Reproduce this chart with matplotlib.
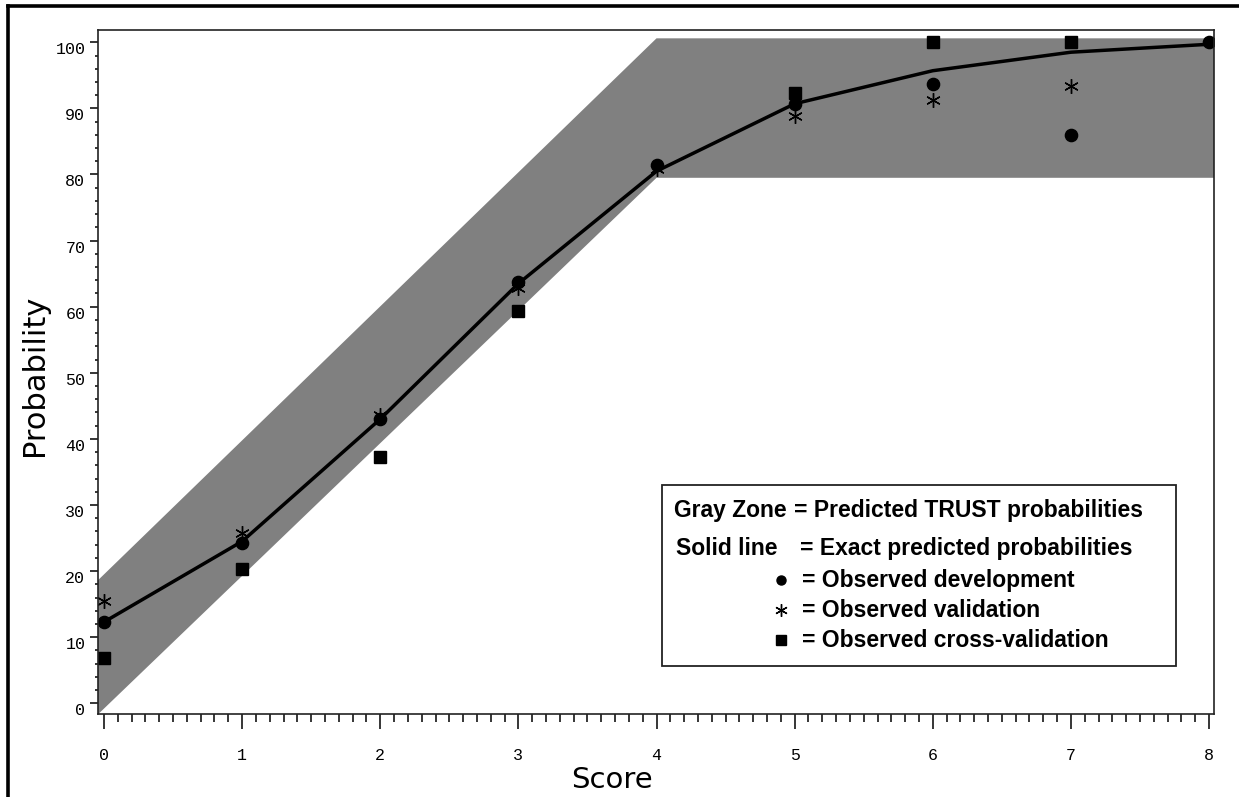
import numpy as np
import matplotlib
matplotlib.use("Agg")
import matplotlib.pyplot as plt
from matplotlib.lines import Line2D
from matplotlib.patches import Rectangle
from matplotlib.ticker import MultipleLocator
from matplotlib.transforms import ScaledTranslation

# ---------------- data ----------------
scores = [0, 1, 2, 3, 4, 5, 6, 7, 8]
exact_pred = [12.3, 24.5, 43.0, 63.5, 80.5, 90.7, 95.7, 98.5, 99.7]
obs_dev = [12.3, 24.3, 43.0, 63.8, 81.5, 90.6, 93.7, 85.9, 100.0]
obs_val = [15.4, 25.8, 43.6, 62.8, 80.8, 88.8, 91.3, 93.4, np.nan]
obs_cv = [6.8, 20.3, 37.2, 59.4, np.nan, 92.4, 100.0, 100.0, np.nan]

zone_x = [0, 4, 8]
zone_low = [-0.8, 79.5, 79.5]
zone_high = [19.5, 100.6, 100.6]

x_ticks = [0, 1, 2, 3, 4, 5, 6, 7, 8]
y_ticks = [0, 10, 20, 30, 40, 50, 60, 70, 80, 90, 100]

# ---------------- figure ----------------
W, H = 1239, 797
DPI = 100
fig = plt.figure(figsize=(W / DPI, H / DPI), dpi=DPI)
fig.patch.set_facecolor("white")


def fx(px):
    return px / W


def fy(py):
    return 1 - py / H


# outer frame (left and top edges visible)
fig.add_artist(Line2D([fx(8), fx(8)], [fy(6), fy(800)], color="black", lw=2.6))
fig.add_artist(Line2D([fx(8), fx(1245)], [fy(6), fy(6)], color="black", lw=2.6))

ax = fig.add_axes([fx(98), fy(714), (1214 - 98) / W, (714 - 30) / H])
xlim = (-0.0434, 8.036)
ylim = (-1.62, 101.86)
ax.set_xlim(*xlim)
ax.set_ylim(*ylim)

# gray zone (extend edges linearly to the axis limits)
zx = np.array(zone_x, dtype=float)
zl = np.array(zone_low, dtype=float)
zh = np.array(zone_high, dtype=float)
slope_l = (zl[1] - zl[0]) / (zx[1] - zx[0])
slope_h = (zh[1] - zh[0]) / (zx[1] - zx[0])
x_poly = [xlim[0], zx[0], zx[1], zx[2], xlim[1]]
low_poly = [zl[0] + slope_l * (xlim[0] - zx[0]), zl[0], zl[1], zl[2], zl[2]]
xh_corner = zx[0] + (zh[1] - zh[0]) / slope_h
high_poly_x = [xlim[0], zx[0], xh_corner, zx[2], xlim[1]]
high_poly = [zh[0] + slope_h * (xlim[0] - zx[0]), zh[0], zh[1], zh[2], zh[2]]
poly_x = list(high_poly_x) + list(reversed(x_poly))
poly_y = list(high_poly) + list(reversed(low_poly))
ax.fill(poly_x, poly_y, color="#808080", lw=0, zorder=1)

# exact predicted line
ax.plot(scores, exact_pred, color="black", lw=2.5, zorder=3)

# observed points
ax.plot(scores, obs_val, ls="none", marker=(6, 2, 0), ms=10.5, mew=1.0,
        color="black", zorder=4)
ax.plot(scores, obs_dev, ls="none", marker="o", ms=8.8, color="black", zorder=5)
ax.plot(scores, obs_cv, ls="none", marker="s", ms=8.6, color="black", zorder=6)

# ticks
ax.set_xticks(x_ticks)
ax.set_xticklabels([str(v) for v in x_ticks])
ax.xaxis.set_minor_locator(MultipleLocator(0.1))
ax.set_yticks(y_ticks)
ax.set_yticklabels([str(v) for v in y_ticks])
ax.yaxis.set_minor_locator(MultipleLocator(2))

ax.tick_params(axis="x", which="major", direction="out", length=10.6, width=1.1,
               pad=14, labelsize=12, color="black")
ax.tick_params(axis="x", which="minor", direction="out", length=6.0, width=1.1,
               color="black")
ax.tick_params(axis="y", which="major", direction="out", length=5.5, width=1.1,
               pad=3.6, labelsize=12, color="black")
ax.tick_params(axis="y", which="minor", direction="out", length=2.4, width=1.1,
               color="black")
for lbl in ax.get_xticklabels() + ax.get_yticklabels():
    lbl.set_family("Liberation Mono")
for lbl in ax.get_yticklabels():
    lbl.set_transform(lbl.get_transform()
                      + ScaledTranslation(0, -6 / DPI, fig.dpi_scale_trans))

for sp in ax.spines.values():
    sp.set_linewidth(1.2)
    sp.set_color("#222222")
    sp.set_zorder(7)

# axis titles
fig.text(fx(35), fy(375), "Probability", rotation=90, ha="center", va="center",
         fontsize=22, family="DejaVu Sans")
fig.text(fx(612), fy(780), "Score", ha="center", va="center",
         fontsize=21, family="DejaVu Sans")

# legend box
fig.add_artist(Rectangle((fx(662), fy(666)), (1176 - 662) / W, (666 - 485) / H,
                         fill=True, facecolor="white", edgecolor="#222222",
                         lw=1.3, zorder=10))
lfont = dict(fontsize=16.5, family="Liberation Sans", weight="bold",
             va="baseline", ha="left", zorder=11)
fig.text(fx(674), fy(517), "Gray Zone", **lfont)
fig.text(fx(794), fy(517), "= Predicted TRUST probabilities", **lfont)
fig.text(fx(676), fy(555), "Solid line", **lfont)
fig.text(fx(800), fy(555), "= Exact predicted probabilities", **lfont)

rows = [
    (587, "o", 6.5, "= Observed development"),
    (617, (6, 2, 0), 9, "= Observed validation"),
    (647, "s", 7.5, "= Observed cross-validation"),
]
for base, mk, ms, label in rows:
    fig.add_artist(Line2D([fx(781)], [fy(base - 7)], marker=mk, ms=ms, mew=1.0,
                          color="black", ls="none", zorder=11))
    fig.text(fx(802), fy(base), label, **lfont)

fig.savefig("out.png", dpi=DPI)
